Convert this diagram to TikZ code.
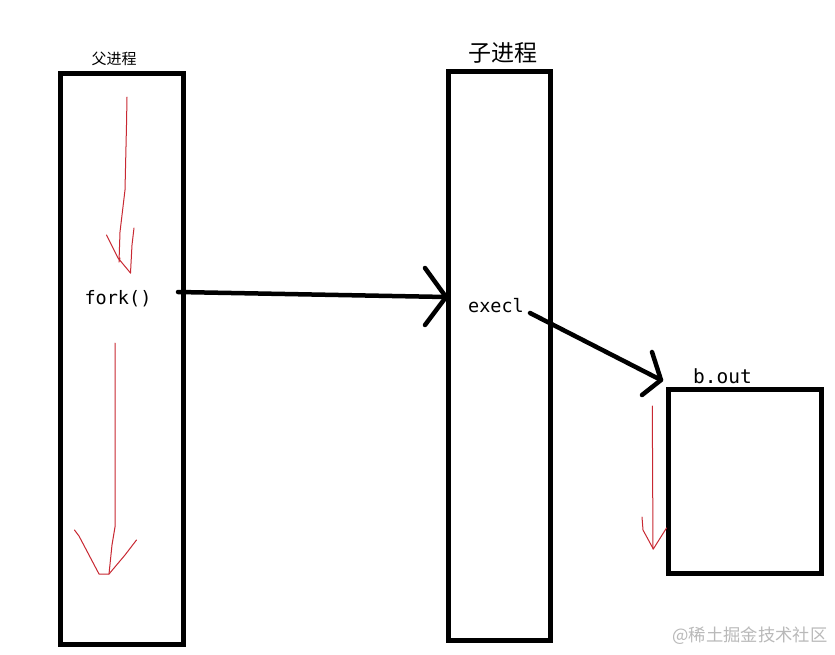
\documentclass[tikz,border=0pt]{standalone}
\usepackage{fontspec}
\setmonofont{DejaVu Sans Mono}
\newfontfamily\cjk{Noto Sans CJK SC}
\definecolor{penred}{RGB}{200,40,50}
\definecolor{wmgray}{RGB}{185,185,185}
\begin{document}
\begin{tikzpicture}[x=1pt,y=-1pt,
  box/.style={draw=black,line width=5pt,line join=miter},
  thick arrow/.style={draw=black,line width=4.5pt,line cap=round,line join=round},
  redpen/.style={draw=penred,line width=1pt,line cap=round,line join=round},
  code/.style={font=\ttfamily\fontsize{18.5}{18.5}\selectfont,inner sep=0pt},
  cjklabel/.style={font=\cjk,inner sep=0pt}]
\useasboundingbox (0,0) rectangle (835,654);
\fill[white] (0,0) rectangle (835,654);
% boxes
\draw[box] (60.5,73) rectangle (183.5,644.5);
\draw[box] (448.5,71) rectangle (550.5,640);
\draw[box] (668,389) rectangle (821,573);
% labels
\node[cjklabel,font=\cjk\fontsize{15}{15}\selectfont] (lp) at (114,59) {父进程};
\node[cjklabel,font=\cjk\fontsize{23}{23}\selectfont] (lc) at (503,53) {子进程};
\node[code] (fork) at (118,299) {fork()};
\node[code] (execl) at (496,306) {execl};
\node[code,font=\ttfamily\fontsize{19.5}{19.5}\selectfont,anchor=base west] (bout) at (693,383) {b.out};
\node[cjklabel,font=\cjk\fontsize{17.3}{17.3}\selectfont,text=wmgray] (wm) at (750,636) {@稀土掘金技术社区};
% black arrows
\coordinate (f1) at (178,292);
\coordinate (t1) at (446,297);
\coordinate (h1a) at (425,268);
\coordinate (h1b) at (425,325);
\draw[thick arrow] (f1) -- (t1);
\draw[thick arrow] (h1a) -- (t1) -- (h1b);
\coordinate (f2) at (530,313);
\coordinate (t2) at (661,380);
\coordinate (h2a) at (652,352);
\coordinate (h2b) at (642,395);
\draw[thick arrow] (f2) -- (t2);
\draw[thick arrow] (h2a) -- (t2) -- (h2b);
% red pen arrows
\draw[redpen] (127,97) -- (126.5,125) -- (125,190) -- (120,232) -- (119,262) -- (120,258);
\draw[redpen] (106.5,235) -- (118,258) -- (130.5,273);
\draw[redpen] (134,228) -- (132,245) -- (130.5,273);
\draw[redpen] (115,343) -- (115,527) -- (112,545) -- (109,574);
\draw[redpen] (74.5,530) -- (79,536) -- (99,574) -- (109,574) -- (125,555) -- (136.5,540);
\draw[redpen] (652.3,406) -- (652.5,450) -- (653,549);
\draw[redpen] (642,517) -- (643,530) -- (653.3,549) -- (666.5,528);
\end{tikzpicture}
\end{document}
